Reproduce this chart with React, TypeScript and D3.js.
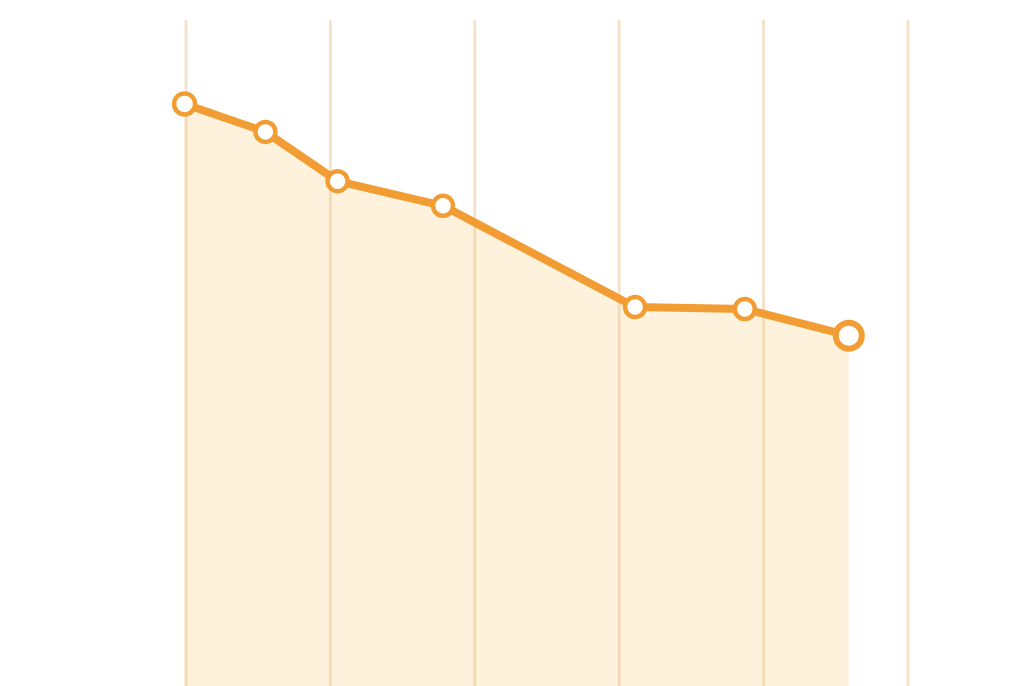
import React from "react";
import * as d3 from "d3";

const gridTicks = [2018, 2019, 2020, 2021, 2022, 2023];
const xValues = [2017.99, 2018.55, 2019.05, 2019.78, 2021.11, 2021.87, 2022.59];
const yValues = [87.4, 83.2, 75.8, 72.1, 56.9, 56.6, 52.6];
const lastIsHighlighted = [false, false, false, false, false, false, true];

const W = 1024;
const H = 686;

export default function App() {
  const x = d3.scaleLinear().domain([2018, 2023]).range([186, 908]);
  const y = d3.scaleLinear().domain([0, 100]).range([686, 20]);
  const pts = xValues.map((v, i) => ({ x: v, y: yValues[i], hi: lastIsHighlighted[i] }));

  const area = d3
    .area<{ x: number; y: number }>()
    .x((d) => x(d.x))
    .y0(y(0))
    .y1((d) => y(d.y));
  const line = d3
    .line<{ x: number; y: number }>()
    .x((d) => x(d.x))
    .y((d) => y(d.y));

  return (
    <svg
      width={W}
      height={H}
      style={{ position: "fixed", left: 0, top: 0, background: "#ffffff" }}
    >
      <path d={area(pts) || ""} fill="#FEF2DC" />
      {gridTicks.map((t) => (
        <line
          key={t}
          x1={x(t)}
          x2={x(t)}
          y1={y(100)}
          y2={H}
          stroke="rgb(228,186,126)"
          strokeOpacity={0.42}
          strokeWidth={2.8}
        />
      ))}
      <path
        d={line(pts) || ""}
        fill="none"
        stroke="#F29D33"
        strokeWidth={8}
        strokeLinejoin="round"
        strokeLinecap="round"
      />
      {pts.map((p, i) => (
        <circle
          key={i}
          cx={x(p.x)}
          cy={y(p.y)}
          r={p.hi ? 13 : i === 0 ? 10.5 : 10}
          fill="#ffffff"
          stroke="#F29D33"
          strokeWidth={p.hi ? 6 : 4.5}
        />
      ))}
    </svg>
  );
}
